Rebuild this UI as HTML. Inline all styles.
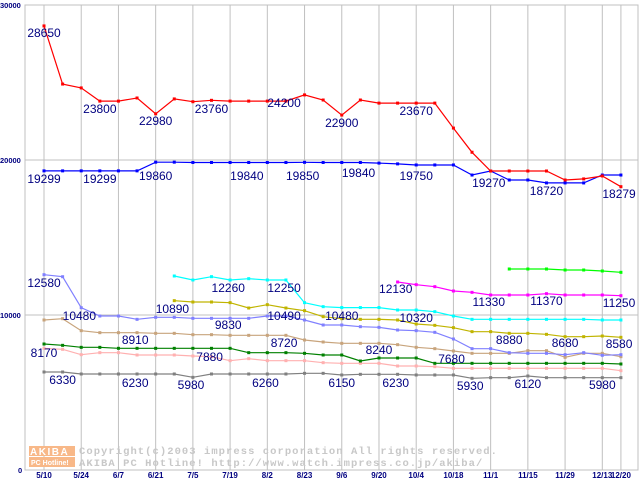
<!DOCTYPE html>
<html><head><meta charset="utf-8"><style>
body{margin:0;background:#fff;}
svg{display:block;font-family:"Liberation Sans",sans-serif;}
</style></head><body>
<svg id="chart" width="640" height="480" viewBox="0 0 640 480" xmlns="http://www.w3.org/2000/svg">
<rect x="0" y="0" width="640" height="480" fill="#fff"/>
<g id="grid"></g>
<g id="watermark">
  <rect x="29" y="446" width="46" height="10" fill="#f8b888"/>
  <text x="30" y="455" font-size="10" font-weight="bold" fill="#fff" letter-spacing="1.5">AKIBA</text>
  <rect x="29" y="457" width="46" height="10" fill="#f8b888"/>
  <text x="31" y="465" font-size="7" font-weight="bold" fill="#fff">PC Hotline!</text>
  <text x="79" y="454" font-family="Liberation Mono, monospace" font-size="10.5" font-weight="bold" fill="#c8c8c8" letter-spacing="1.05">Copyright(c)2003 impress corporation All rights reserved.</text>
  <text x="79" y="466" font-family="Liberation Mono, monospace" font-size="10.5" font-weight="bold" fill="#c8c8c8" letter-spacing="1.05">AKIBA PC Hotline!  http://www.watch.impress.co.jp/akiba/</text>
</g>
<g id="series"></g>
<g id="labels"></g>
</svg>
<script>
const xLabels=["5/10","5/24","6/7","6/21","7/5","7/19","8/2","8/23","9/6","9/20","10/4","10/18","11/1","11/15","11/29","12/13","12/20"];
const xLabelIdx=[0,2,4,6,8,10,12,14,16,18,20,22,24,26,28,30,31];
const yTicks=[0,10000,20000,30000];
const sRed=[28650,24900,24650,23800,23800,24000,22980,23940,23760,23850,23800,23800,23800,23800,24200,23870,22900,23870,23670,23670,23670,23670,22060,20500,19290,19290,19290,19290,18710,18780,18970,18279];
const sBlue=[19299,19299,19299,19299,19299,19299,19860,19860,19840,19840,19840,19840,19840,19840,19850,19840,19840,19840,19800,19750,19680,19680,19680,19030,19290,18710,18710,18520,18520,18520,19030,19030];
const sPeri=[12600,12470,10470,9935,9935,9720,9850,9850,9785,9785,9785,9785,9935,9935,9677,9355,9355,9247,9204,9032,8990,8882,8452,7828,7828,7570,7527,7527,7440,7570,7400,7440];
const sCyan=[null,null,null,null,null,null,null,12516,12258,12473,12258,12344,12258,12258,10796,10538,10480,10480,10480,10322,10322,10215,9935,9720,9720,9720,9720,9720,9720,9720,9677,9677];
const sOlive=[null,null,null,null,null,null,null,10925,10838,10838,10796,10451,10666,10451,10280,9892,9763,9720,9720,9677,9419,9333,9183,8925,8925,8817,8817,8753,8602,8602,8645,8560];
const sTan=[9677,9763,8989,8860,8860,8860,8817,8817,8731,8731,8688,8688,8688,8688,8387,8258,8172,8172,8172,8086,7914,7828,7677,7527,7527,7527,7699,7699,7269,7527,7527,7312];
const sGreen=[8129,8043,7914,7914,7850,7850,7850,7850,7850,7850,7850,7570,7570,7570,7527,7419,7419,7032,7226,7226,7226,6882,6882,6882,6882,6882,6882,6882,6882,6882,6882,6839];
const sPink=[7850,7785,7441,7570,7570,7419,7419,7419,7355,7312,7054,7183,7054,7054,7054,6925,6882,6882,6882,6710,6710,6667,6559,6559,6559,6559,6559,6559,6559,6559,6559,6409];
const sGray=[6323,6323,6194,6194,6194,6194,6194,6194,5978,6194,6194,6194,6194,6194,6237,6237,6130,6173,6173,6173,6130,6130,6130,5914,5957,5957,6065,5957,5957,5957,5957,5957];
const sMagenta=[null,null,null,null,null,null,null,null,null,null,null,null,null,null,null,null,null,null,null,12129,11957,11828,11548,11462,11290,11290,11290,11376,11290,11290,11290,11247];
const sLime=[null,null,null,null,null,null,null,null,null,null,null,null,null,null,null,null,null,null,null,null,null,null,null,null,null,12968,12968,12968,12903,12903,12839,12753];
const labelText=["28650","23800","22980","23760","24200","19299","19299","19860","19840","19850","22900","23670","19840","19750","19270","18720","18279","12580","10480","10890","12260","12250","9830","10490","8910","8720","8170","7880","6330","6230","5980","6260","10480","10320","12130","11330","11370","11250","8880","8680","8580","8240","7680","6150","6230","5930","6120","5980"];
const labelIdx=[0,3,6,9,12.9,0,3,6,10.9,13.9,16,20,16.9,20,23.9,27,30.9,0,1.9,6.9,9.9,12.9,9.9,12.9,4.9,12.9,0,8.9,1,4.9,7.9,11.9,16,20,18.9,23.9,27,30.9,25,28,30.9,18,21.9,16,18.9,22.9,26,30];
const labelBase=[37,113,125,113,107,183,183,180,180,180,127,115,177,180,187,195,198,287,320,313,292,292,329,320,344,347,357,361,384,387,389,387,320,322,293,306,305,307,344,347,348,354,363,387,387,390,388,389];

const NS="http://www.w3.org/2000/svg";
const X0=44, DX=18.61, Y0=470, KY=0.0155;
const xS=i=>X0+i*DX;
const yS=v=>Y0-v*KY;
function mk(tag,attrs,parent){const e=document.createElementNS(NS,tag);for(const k in attrs)e.setAttribute(k,attrs[k]);parent.appendChild(e);return e;}
const grid=document.getElementById('grid');
mk('rect',{x:25,y:yS(30000),width:613,height:yS(0)-yS(30000),fill:'none',stroke:'#c0c0c0'},grid);
xLabelIdx.forEach((ix,k)=>{
  const l=mk('line',{x1:xS(ix),x2:xS(ix),y1:yS(30000),y2:yS(0),stroke:'#c0c0c0'},grid);
  
  
  const t=mk('text',{x:xS(ix),y:478,'text-anchor':'middle','font-size':'8','font-weight':'bold',fill:'#000080'},grid);
  t.textContent=xLabels[k];
  
  
});
yTicks.forEach(v=>{
  const l=mk('line',{x1:25,x2:638,y1:yS(v),y2:yS(v),stroke:'#c0c0c0'},grid);
  
  
  const t=mk('text',{x:v===0?18:0,y:yS(v)+3,'font-size':'7.5','font-weight':'bold',fill:'#000080'},grid);
  t.textContent=String(v);
  
  
});
const seriesList=[[sGray,'#808080','gray-series'],[sPink,'#ffb0b0','pink-series'],[sGreen,'#008000','green-series'],[sTan,'#c8a47c','tan-series'],[sPeri,'#8080ff','periwinkle-series'],[sOlive,'#c0b400','olive-series'],[sCyan,'#00ffff','cyan-series'],[sMagenta,'#ff00ff','magenta-series'],[sLime,'#00ff00','lime-series'],[sBlue,'#0000ff','blue-series'],[sRed,'#ff0000','red-series']];
const sg=document.getElementById('series');
seriesList.forEach(([arr,col,name])=>{
  const g=mk('g',{},sg);
  
  
  let d='';
  arr.forEach((v,i)=>{if(v==null)return;d+=(d?'L':'M')+xS(i).toFixed(1)+' '+yS(v).toFixed(1);});
  const p=mk('path',{d:d,fill:'none',stroke:col,'stroke-width':1.2},g);
  
  
  arr.forEach((v,i)=>{if(v==null)return;
    const r=mk('rect',{x:xS(i)-1.5,y:yS(v)-1.5,width:3,height:3,fill:col},g);
    
    
  });
});
const lg=document.getElementById('labels');
labelText.forEach((t,k)=>{
  const e=mk('text',{x:xS(labelIdx[k]),y:labelBase[k],'text-anchor':'middle','font-size':'12',fill:'#000080'},lg);
  e.textContent=t;
  
  
});
</script>
</body></html>
